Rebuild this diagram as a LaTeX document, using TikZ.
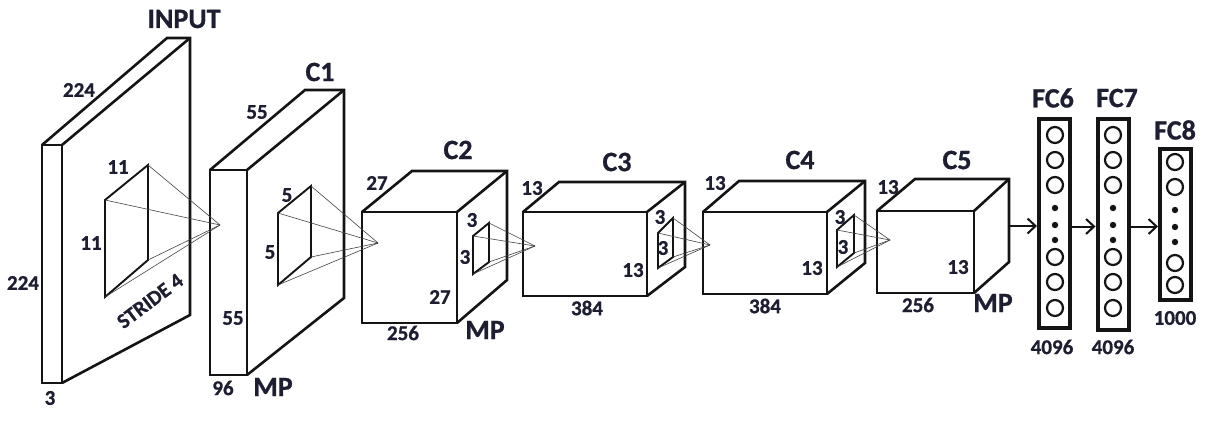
\documentclass[tikz,border=0pt]{standalone}
\usepackage{fontspec}
\setmainfont{Carlito}
\newfontfamily\heavyfont[FakeBold=0.8]{Carlito Bold}
\usepackage{tikz}
\usetikzlibrary{arrows.meta,calc}
\usepackage{xcolor}
\definecolor{inkcol}{RGB}{20,20,20}
\definecolor{labelcol}{RGB}{30,30,50}
\tikzset{
  blockline/.style={line width=2.6pt,inkcol,line join=miter},
  kernline/.style={line width=1.9pt,inkcol},
  rayline/.style={line width=0.6pt,inkcol!80},
  lbl/.style={font=\fontsize{21}{21}\selectfont\heavyfont,text=labelcol,inner sep=0pt},
  ttl/.style={font=\fontsize{28}{28}\selectfont\heavyfont,text=labelcol,inner sep=0pt},
  fcbox/.style={draw=inkcol,line width=4pt,minimum width=31pt,inner sep=0pt},
  unit/.style={circle,draw=inkcol,line width=2.2pt,minimum size=16pt,inner sep=0pt},
  flow/.style={line width=2pt,inkcol,-{Straight Barb[length=8pt,width=15pt,line width=2pt]}}
}
% front x-left, x-right, y-top, y-bottom, back x-left, back x-right, back y-top, back y-bottom
\newcommand{\convblock}[8]{%
  \draw[blockline] (#1,#3) rectangle (#2,#4);
  \draw[blockline] (#1,#3) -- (#5,#7) -- (#6,#7) -- (#6,#8) -- (#2,#4);
  \draw[blockline] (#2,#3) -- (#6,#7);
}
% front x, y-top, y-bottom, back x, y-top, y-bottom, apex x, apex y, name
\newcommand{\kernel}[9]{%
  \coordinate (#9ft) at (#1,#2); \coordinate (#9fb) at (#1,#3);
  \coordinate (#9bt) at (#4,#5); \coordinate (#9bb) at (#4,#6);
  \coordinate (#9ap) at (#7,#8);
  \draw[kernline] (#9fb) -- (#9ft) -- (#9bt) -- (#9bb) -- cycle;
  \foreach \c in {ft,fb,bt,bb} \draw[rayline] (#9\c) -- (#9ap);
}

\begin{document}
\begin{tikzpicture}[x=1pt,y=-1pt]
\useasboundingbox (0,0) rectangle (1205,440);
\fill[white] (0,0) rectangle (1205,440);

% Blocks: INPUT, C1 .. C5
\convblock{42}{62}{145}{383}{167}{190}{38}{315}
\convblock{210}{247}{170}{375}{305}{344}{90}{298}
\convblock{362}{457}{212}{323}{412}{507}{171}{280}
\convblock{523}{647}{212}{296}{559}{685}{182}{267}
\convblock{703}{827}{212}{294}{739}{865}{181}{263}
\convblock{877}{974}{211}{293}{915}{1009}{179}{262}

% Kernels and their receptive rays
\kernel{105}{200}{297}{148}{165}{260}{220}{225}{kin}
\kernel{278}{213}{285}{311}{186}{257}{378}{243}{kca}
\kernel{473}{236}{274}{489}{223}{262}{535}{246}{kcb}
\kernel{658}{233}{268}{673}{218}{257}{710}{245}{kcc}
\kernel{837}{230}{267}{854}{215}{253}{890}{240}{kcd}

% Titles
\foreach \t/\x/\y in {INPUT/184/19,C1/320/72,C2/458/150,C3/617/162,C4/800/160,
  C5/957/160,FC6/1053/98,FC7/1117/98,FC8/1175/130,MP/273/387,MP/485/330,MP/993/303}
  \node[ttl] at (\x,\y) {\t};

% Size labels
\foreach \t/\x/\y in {224/79/90,224/23/283,3/50/398,11/118/167,11/91/243,
  55/257/112,5/287/195,5/270/252,55/233/318,96/223/388,
  27/377/183,3/472/220,3/465/257,27/440/297,256/403/333,
  13/532/188,3/660/217,3/663/248,13/633/270,384/587/308,
  13/715/183,3/840/217,3/843/247,13/812/268,384/765/306,
  13/888/187,13/958/267,256/918/305,
  4096/1052/347,4096/1113/347,1000/1175/318}
  \node[lbl] at (\x,\y) {\t};
\node[lbl,rotate=37] (stride) at (150,301) {STRIDE 4};

% Fully connected layers
\node[fcbox,minimum height=209pt] (fc6) at (1054.5,223.5) {};
\node[fcbox,minimum height=211pt] (fc7) at (1113,224.5) {};
\node[fcbox,minimum height=151pt] (fc8) at (1175.5,224.5) {};
\foreach \y in {135,160,185,257,282,308} {
  \node[unit] at (1055,\y) {};
  \node[unit] at (1113,\y) {};
}
\foreach \y in {162,187,263,285} \node[unit] at (1175,\y) {};
\foreach \y in {208,225,240} {
  \fill[inkcol] (1055,\y) circle (3.2pt);
  \fill[inkcol] (1113,\y) circle (3.2pt);
}
\foreach \y in {210,227,242} \fill[inkcol] (1175,\y) circle (3.2pt);

% Flow arrows
\coordinate (c5out) at (1009,226);
\draw[flow] (c5out) -- (c5out -| fc6.west);
\draw[flow] ($(fc6.east)+(0,3)$) -- ($(fc7.west)+(0,2)$);
\draw[flow] ($(fc7.east)+(0,2)$) -- ($(fc8.west)+(0,2)$);
\end{tikzpicture}
\end{document}
